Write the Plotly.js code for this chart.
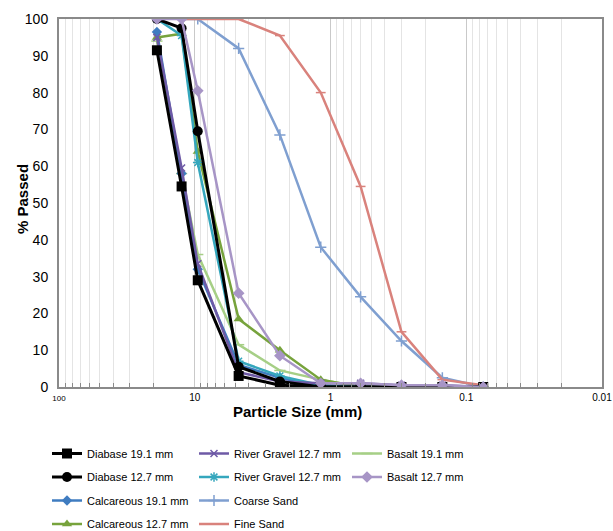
<!DOCTYPE html>
<html>
<head>
<meta charset="utf-8">
<script src="https://cdn.plot.ly/plotly-3.0.1.min.js"></script>
<style>html,body{margin:0;padding:0;background:#fff;}#chart{width:613px;height:531px;}</style>
</head>
<body>
<div id="chart"></div>
<script>
// Sieve sizes (mm)
const sieveSizes = [19, 12.5, 9.5, 4.75, 2.36, 1.18, 0.6, 0.3, 0.15, 0.075];
const sandSizes = [12.5, 9.5, 4.75, 2.36, 1.18, 0.6, 0.3, 0.15, 0.075];

// % passed
const diabase191 = [91.5, 54.5, 29, 3, 0.5, 0, 0, 0, 0, 0];
const diabase127 = [100, 97.5, 69.5, 5.5, 1.5, 0, 0, 0, 0, 0];
const calcareous191 = [96.5, 58, 32, 6, 2.5, 0, 0, 0, 0, 0];
const calcareous127 = [95, 96, 64, 18.5, 10, 2, 0, 0, 0, 0];
const riverGravelA = [95, 59.5, 33.5, 4, 1.5, 1, 1, 0.5, 0.5, 0];
const riverGravelB = [100, 95.5, 61, 7, 3, 0.5, 0, 0, 0, 0];
const basalt191 = [94, 58, 36, 11.5, 4.5, 2, 0, 0, 0, 0];
const basalt127 = [100, 100, 80.5, 25.5, 8.5, 1, 1, 0.5, 0.5, 0];
const coarseSand = [100, 100, 92, 68.5, 38, 24.5, 12.5, 2.5, 0];
const fineSand = [100, 100, 100, 95.5, 80, 54.5, 15, 2, 0.5];

const xTickVals = [100, 10, 1, 0.1, 0.01];
const xTickText = ['<span style="font-size:8px">100</span>', '10', '1', '0.1', '0.01'];
const minorMultipliers = [2, 3, 4, 5, 6, 7, 8, 9];
const decades = [0.01, 0.1, 1, 10];
const xMinorVals = [];
decades.forEach(d => minorMultipliers.forEach(m => xMinorVals.push(d * m)));

const xTitle = 'Particle Size (mm)';
const yTitle = '% Passed';

function tr(name, x, y, color, symbol, msize, lw, legend, mline) {
  return {
    type: 'scatter', mode: 'lines+markers', name: name, x: x, y: y,
    legend: legend, legendgroup: name,
    line: {color: color, width: lw},
    marker: {color: color, symbol: symbol, size: msize, line: {color: color, width: mline || 0}},
    hoverinfo: 'skip'
  };
}

const traces = [
  tr('Coarse Sand', sandSizes, coarseSand, '#7f9fd0', 'cross-thin', 8, 2.5, 'legend2', 1.5),
  tr('Fine Sand', sandSizes, fineSand, '#d9827c', 'line-ew', 7, 2.5, 'legend2', 1.5),
  tr('Basalt 19.1 mm', sieveSizes, basalt191, '#a6cf86', 'line-ew', 8, 2.5, 'legend3', 1.5),
  tr('Calcareous 12.7 mm', sieveSizes, calcareous127, '#77a33c', 'triangle-up', 9, 2.5, 'legend'),
  tr('Calcareous 19.1 mm', sieveSizes, calcareous191, '#3f7cc0', 'diamond', 8, 2.5, 'legend'),
  tr('River Gravel 12.7 mm', sieveSizes, riverGravelB, '#35a7bd', 'asterisk-open', 8, 2.5, 'legend2', 1.5),
  tr('River Gravel 12.7 mm ', sieveSizes, riverGravelA, '#6e5aa6', 'x-thin', 7, 2.5, 'legend2', 1.5),
  tr('Diabase 12.7 mm', sieveSizes, diabase127, '#000000', 'circle', 10, 3, 'legend'),
  tr('Diabase 19.1 mm', sieveSizes, diabase191, '#000000', 'square', 10, 3, 'legend'),
  tr('Basalt 12.7 mm', sieveSizes, basalt127, '#a795c6', 'diamond', 9, 2.5, 'legend3'),
];

const order = {
  'Diabase 19.1 mm': 1, 'Diabase 12.7 mm': 2, 'Calcareous 19.1 mm': 3, 'Calcareous 12.7 mm': 4,
  'River Gravel 12.7 mm ': 1, 'River Gravel 12.7 mm': 2, 'Coarse Sand': 3, 'Fine Sand': 4,
  'Basalt 19.1 mm': 1, 'Basalt 12.7 mm': 2
};
traces.forEach(t => { t.legendrank = order[t.name]; });

const legendBase = {
  orientation: 'v', traceorder: 'grouped', tracegroupgap: 4.5,
  xref: 'paper', yref: 'paper', yanchor: 'top', xanchor: 'left',
  font: {family: 'Arial, Liberation Sans, sans-serif', size: 11, color: '#000'},
  bgcolor: 'rgba(0,0,0,0)', itemwidth: 30
};
// pixel -> paper helpers for the fixed plot area (59..602 x 19..387)
const px = p => (p - 59) / 543;
const py = p => (387 - p) / 368;

const layout = {
  width: 613, height: 531,
  margin: {l: 59, r: 11, t: 19, b: 144, autoexpand: false},
  paper_bgcolor: '#ffffff', plot_bgcolor: '#ffffff',
  font: {family: 'Arial, Liberation Sans, sans-serif', color: '#000'},
  showlegend: true,
  xaxis: {
    type: 'log', range: [2, -2], autorange: false,
    tickmode: 'array', tickvals: xTickVals, ticktext: xTickText, tickfont: {size: 10},
    showline: true, mirror: true, linecolor: '#8a8a8a', linewidth: 2,
    showgrid: true, gridcolor: '#c9c9c9', gridwidth: 1,
    ticks: '', zeroline: false,
    minor: {tickmode: 'array', tickvals: xMinorVals, showgrid: true, gridcolor: '#e4e4e4', gridwidth: 1,
            ticks: 'inside', ticklen: 4, tickcolor: '#8a8a8a'}
  },
  yaxis: {
    range: [0, 100], autorange: false, dtick: 10, tick0: 0,
    tickfont: {size: 14}, ticks: '', ticklabelstandoff: 6,
    showline: true, mirror: true, linecolor: '#8a8a8a', linewidth: 2,
    showgrid: false, zeroline: false
  },
  yaxis2: {
    overlaying: 'y', side: 'right', range: [0, 100], autorange: false, dtick: 10, tick0: 0,
    showticklabels: false, ticks: 'inside', ticklen: 4, tickcolor: '#8a8a8a',
    showgrid: false, zeroline: false, showline: false
  },
  annotations: [
    {text: '<b>' + xTitle + '</b>', xref: 'paper', yref: 'paper', x: px(297), y: py(411),
     xanchor: 'center', yanchor: 'middle', showarrow: false, font: {size: 15}},
    {text: '<b>' + yTitle + '</b>', xref: 'paper', yref: 'paper', x: px(23), y: py(199),
     xanchor: 'center', yanchor: 'middle', showarrow: false, textangle: -90, font: {size: 15}}
  ],
  legend: Object.assign({}, legendBase, {x: px(47), y: py(439)}),
  legend2: Object.assign({}, legendBase, {x: px(194), y: py(439)}),
  legend3: Object.assign({}, legendBase, {x: px(347), y: py(439)})
};

Plotly.newPlot('chart', traces, layout, {displayModeBar: false, staticPlot: true});
</script>
</body>
</html>
